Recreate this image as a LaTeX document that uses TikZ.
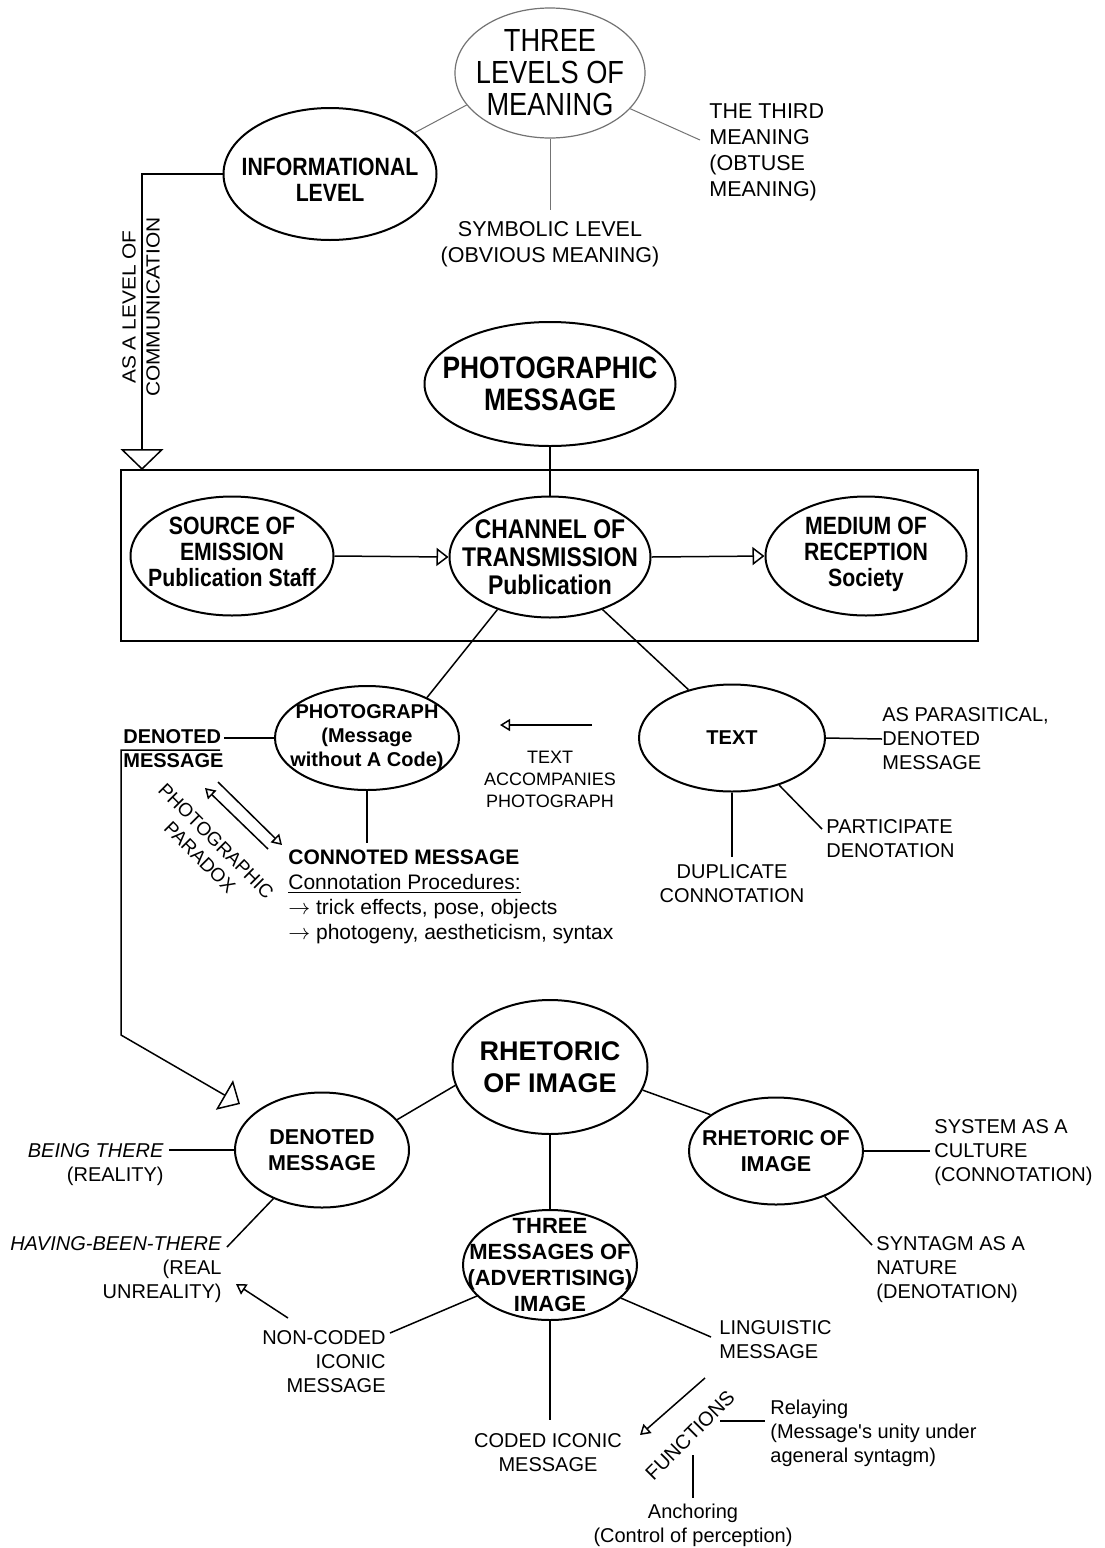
\documentclass[tikz,border=0pt]{standalone}
\usepackage{fontspec}
\setmainfont{Liberation Sans}
\newfontfamily\narrowfont[FakeStretch=0.85]{Liberation Sans}
\newfontfamily\widefont[FakeStretch=1.1]{Liberation Sans}
\newfontfamily\quotefont[Ligatures=TeXOff]{Liberation Sans}
\usetikzlibrary{shapes.geometric,arrows.meta,calc}
\begin{document}
\begin{tikzpicture}[x=0.5pt,y=-0.5pt,
  ell/.style={draw, ellipse, line width=1pt, inner sep=0pt},
  conn/.style={line width=0.75pt},
  thinline/.style={line width=0.5pt, draw=black!55},
  sopen/.style={-{Triangle[open,length=5pt,width=6pt]}},
  mopen/.style={-{Triangle[open,length=6pt,width=9pt]}},
  bopen/.style={-{Triangle[open,length=10.5pt,width=21.5pt]}},
  bopenb/.style={-{Triangle[open,length=9pt,width=17pt]}},
  lbl/.style={inner sep=0pt, font=\fontsize{10}{12}\selectfont},
  lblb/.style={inner sep=0pt, font=\fontsize{10.75}{13}\selectfont},
]
\useasboundingbox[fill=white] (0,0) rectangle (1104,1548);

% ---------- top part ----------
\node[ell, draw=black!55, line width=0.6pt, minimum width=95pt, minimum height=65pt,
      label={[inner sep=0pt, align=center, font=\narrowfont\fontsize{16}{16}\selectfont]center:THREE\\LEVELS OF\\MEANING}] (tlm) at (550,73) {};
\node[ell, minimum width=106.5pt, minimum height=66pt,
      label={[inner sep=0pt, align=center, yshift=-3pt, font=\narrowfont\bfseries\fontsize{12.5}{13}\selectfont]center:INFORMATIONAL\\LEVEL}] (info) at (330,174) {};
\node[lblb, align=center, anchor=north] (sym) at (550,221) {SYMBOLIC LEVEL\\(OBVIOUS MEANING)};
\node[lblb, align=left, anchor=north west] (third) at (709,103) {THE THIRD\\MEANING\\(OBTUSE\\MEANING)};
\coordinate (symc) at (550,210);
\coordinate (thirdc) at (700,140);
\draw[thinline] (tlm.201) -- (info.26);
\draw[thinline] (tlm.south) -- (symc);
\draw[thinline] (tlm.-24) -- (thirdc);

% ---------- communication arrow ----------
\coordinate (boxtop) at (142,470);
\draw[conn, bopen] (info.west) -| (boxtop);
\node[inner sep=0pt, rotate=90, align=center, font=\widefont\fontsize{9.5}{12}\selectfont] (comm) at (141,307) {AS A LEVEL OF\\COMMUNICATION};

% ---------- photographic message ----------
\node[ell, minimum width=125.5pt, minimum height=62pt,
      label={[inner sep=0pt, align=center, font=\narrowfont\bfseries\fontsize{15.5}{16}\selectfont]center:PHOTOGRAPHIC\\MESSAGE}] (pm) at (550,384) {};
\node[draw, line width=0.8pt, minimum width=428.5pt, minimum height=85.5pt, inner sep=0pt] (box) at (549.5,555.5) {};
\node[ell, minimum width=101.5pt, minimum height=59.5pt,
      label={[inner sep=0pt, align=center, yshift=2pt, font=\narrowfont\bfseries\fontsize{12.5}{13}\selectfont]center:SOURCE OF\\EMISSION\\Publication Staff}] (src) at (232,556) {};
\node[ell, minimum width=100.5pt, minimum height=60.5pt,
      label={[inner sep=0pt, align=center, font=\narrowfont\bfseries\fontsize{13.5}{14}\selectfont]center:CHANNEL OF\\TRANSMISSION\\Publication}] (chan) at (550,557) {};
\node[ell, minimum width=100.5pt, minimum height=59.5pt,
      label={[inner sep=0pt, align=center, yshift=1pt, font=\narrowfont\bfseries\fontsize{12.5}{13}\selectfont]center:MEDIUM OF\\RECEPTION\\Society}] (med) at (866,556) {};
\draw[conn] (pm.south) -- (chan.north);
\draw[conn, mopen] (src.east) -- (chan.west);
\draw[conn, mopen] (chan.east) -- (med.west);

% ---------- photograph / text ----------
\node[ell, minimum width=92pt, minimum height=52pt,
      label={[inner sep=0pt, align=center, font=\bfseries\fontsize{10}{12}\selectfont]center:PHOTOGRAPH\\(Message\\without A Code)}] (photo) at (367,738) {};
\node[ell, minimum width=93pt, minimum height=53.5pt,
      label={[inner sep=0pt, font=\bfseries\fontsize{10}{12}\selectfont]center:TEXT}] (text) at (732,738) {};
\draw[conn] (chan.-135) -- (photo.34);
\draw[conn] (chan.-45) -- (text.132);

\node[inner sep=0pt, align=left, anchor=north west, font=\bfseries\fontsize{10}{12}\selectfont] (dm) at (123,729) {DENOTED\\MESSAGE};
\draw[conn] (photo.west) -- (photo.west -| dm.east);

\node[inner sep=0pt, align=left, anchor=north west, font=\fontsize{10.5}{12.5}\selectfont] (cm) at (288,849)
  {\textbf{CONNOTED MESSAGE}\\\underline{Connotation Procedures:}\\$\rightarrow$ trick effects, pose, objects\\$\rightarrow$ photogeny, aestheticism, syntax};
\draw[conn] (photo.south) -- ($(photo.south |- cm.north)+(0,-6)$);

\coordinate (pa1) at (268,849);
\coordinate (pa2) at (205,788);
\coordinate (pb1) at (218,782);
\coordinate (pb2) at (282,845);
\draw[conn, sopen] (pa1) -- (pa2);
\draw[conn, sopen] (pb1) -- (pb2);
\node[inner sep=0pt, rotate=-45, align=center, font=\fontsize{9.5}{11.5}\selectfont] (para2) at (208,849) {PHOTOGRAPHIC\\PARADOX};

\node[inner sep=0pt, align=center, font=\fontsize{9}{11}\selectfont] (ta) at (550,779) {TEXT\\ACCOMPANIES\\PHOTOGRAPH};
\coordinate (ta1) at (592,725);
\coordinate (ta2) at (500,725);
\draw[conn, sopen] (ta1) -- (ta2);

\node[lbl, align=left, anchor=west] (para) at (882,739) {AS PARASITICAL,\\DENOTED\\MESSAGE};
\node[lbl, align=left, anchor=north west] (part) at (826,819) {PARTICIPATE\\DENOTATION};
\node[lbl, align=center, anchor=north] (dup) at (732,864) {DUPLICATE\\CONNOTATION};
\coordinate (partc) at (822,829);
\coordinate (dupc) at (732,857);
\draw[conn] (text.east) -- (para.west);
\draw[conn] (text.-45) -- (partc);
\draw[conn] (text.south) -- (dupc);

% ---------- rhetoric of image ----------
\node[ell, minimum width=97.5pt, minimum height=67pt,
      label={[inner sep=0pt, align=center, font=\bfseries\fontsize{13.5}{16}\selectfont]center:RHETORIC\\OF IMAGE}] (rbig) at (550,1067) {};
\node[ell, minimum width=87pt, minimum height=57.5pt,
      label={[inner sep=0pt, align=center, font=\bfseries\fontsize{10.75}{13}\selectfont]center:DENOTED\\MESSAGE}] (dmsg) at (322,1150) {};
\node[ell, minimum width=87pt, minimum height=53.5pt,
      label={[inner sep=0pt, align=center, font=\bfseries\fontsize{10.75}{13}\selectfont]center:RHETORIC OF\\IMAGE}] (rsmall) at (776,1151) {};
\node[ell, minimum width=87pt, minimum height=55pt,
      label={[inner sep=0pt, align=center, font=\bfseries\fontsize{11}{13}\selectfont]center:THREE\\MESSAGES OF\\(ADVERTISING)\\IMAGE}] (three) at (550,1265) {};
\draw[conn] (rbig.191) -- (dmsg.22);
\draw[conn] (rbig.-14) -- (rsmall.151);
\draw[conn] (rbig.south) -- (three.north);

% denoted message long connector
\coordinate (dmA) at (220,750);
\coordinate (dmB) at (121,1035);
\coordinate (dmtip) at (240,1104);
\draw[conn, bopenb] (dmA) -- (dmA -| dmB) -- (dmB) -- (dmtip);

\node[lbl, align=right, anchor=east] (being) at (164,1165) {\textit{BEING THERE}\\(REALITY)};
\node[lbl, align=right, anchor=north east] (having) at (222,1236) {\textit{HAVING-BEEN-THERE}\\(REAL\\UNREALITY)};
\coordinate (beingc) at (169,1150);
\coordinate (havc) at (227,1247);
\draw[conn] (dmsg.west) -- (beingc);
\draw[conn] (dmsg.-135) -- (havc);

\node[lbl, align=left, anchor=west] (sys) at (934,1153) {SYSTEM AS A\\CULTURE\\(CONNOTATION)};
\node[lbl, align=left, anchor=north west] (syn) at (876,1236) {SYNTAGM AS A\\NATURE\\(DENOTATION)};
\coordinate (sysc) at (930,1151);
\coordinate (sync) at (872,1245);
\draw[conn] (rsmall.east) -- (sysc);
\draw[conn] (rsmall.-43) -- (sync);

\node[lbl, align=right, anchor=north east] (nc) at (386,1330) {NON-CODED\\ICONIC\\MESSAGE};
\node[lbl, align=left, anchor=north west] (ling) at (719,1320) {LINGUISTIC\\MESSAGE};
\node[lbl, align=center, anchor=north] (coded) at (548,1433) {CODED ICONIC\\MESSAGE};
\coordinate (ncc) at (390,1333);
\coordinate (lingc) at (711,1337);
\coordinate (codedc) at (550,1420);
\draw[conn] (three.203) -- (ncc);
\draw[conn] (three.-25) -- (lingc);
\draw[conn] (three.south) -- (codedc);

\coordinate (nca) at (288,1318);
\coordinate (ncb) at (236,1284);
\draw[conn, sopen] (nca) -- (ncb);

\coordinate (fa) at (705,1378);
\coordinate (fb) at (640,1435);
\draw[conn, sopen] (fa) -- (fb);
\node[lbl, rotate=45] (func) at (690,1435) {FUNCTIONS};

\node[lbl, align=left, anchor=north west] (relay) at (770,1400) {Relaying\\(Message{\quotefont'}s unity under\\ageneral syntagm)};
\coordinate (rl1) at (720,1421);
\coordinate (rl2) at (765,1421);
\draw[conn] (rl1) -- (rl2);

\node[lbl, align=center, anchor=north] (anch) at (693,1504) {Anchoring\\(Control of perception)};
\coordinate (an1) at (693,1455);
\coordinate (an2) at (693,1498);
\draw[conn] (an1) -- (an2);
\end{tikzpicture}
\end{document}
